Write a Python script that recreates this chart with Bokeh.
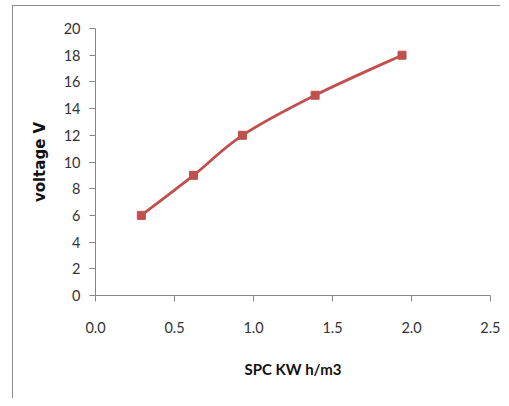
from bokeh.plotting import figure
from bokeh.models import FixedTicker, NumeralTickFormatter, Range1d
from bokeh.embed import file_html
from bokeh.resources import INLINE

# data
spc = [0.29, 0.62, 0.93, 1.39, 1.94]
voltage = [6, 9, 12, 15, 18]
x_ticks = [0.0, 0.5, 1.0, 1.5, 2.0, 2.5]
y_ticks = [0, 2, 4, 6, 8, 10, 12, 14, 16, 18, 20]
x_title = "SPC KW h/m3"
y_title = "voltage V"

RED = "#C0504D"
AXIS = "#868686"

p = figure(width=488, height=393, output_backend="svg", toolbar_location=None,
           x_range=Range1d(0, 2.5), y_range=Range1d(0, 20),
           min_border_left=82, min_border_top=22, min_border_right=11, min_border_bottom=104,
           styles={"margin-left": "12px", "margin-top": "5px",
                   "border-left": "1.5px solid #8c8c8c",
                   "border-top": "1.5px solid #8c8c8c"})
p.outline_line_color = None
p.xgrid.visible = False
p.ygrid.visible = False

# smoothed line (Catmull-Rom style control points computed from the data)
n = len(spc)
x0, y0, x1, y1, cx0, cy0, cx1, cy1 = [], [], [], [], [], [], [], []
for i in range(n - 1):
    xm, ym = (spc[i - 1], voltage[i - 1]) if i > 0 else (spc[i], voltage[i])
    xp, yp = (spc[i + 2], voltage[i + 2]) if i + 2 < n else (spc[i + 1], voltage[i + 1])
    x0.append(spc[i]); y0.append(voltage[i])
    x1.append(spc[i + 1]); y1.append(voltage[i + 1])
    cx0.append(spc[i] + (spc[i + 1] - xm) / 6); cy0.append(voltage[i] + (voltage[i + 1] - ym) / 6)
    cx1.append(spc[i + 1] - (xp - spc[i]) / 6); cy1.append(voltage[i + 1] - (yp - voltage[i]) / 6)
p.bezier(x0=x0, y0=y0, x1=x1, y1=y1, cx0=cx0, cy0=cy0, cx1=cx1, cy1=cy1,
         line_color=RED, line_width=2.8)
p.scatter(spc, voltage, marker="square", size=8, fill_color=RED, line_color=RED)

for ax in (p.xaxis[0], p.yaxis[0]):
    ax.axis_line_color = AXIS
    ax.major_tick_line_color = AXIS
    ax.minor_tick_line_color = None
    ax.major_tick_in = 0
    ax.major_tick_out = 6
    ax.major_label_text_font = "Lato"
    ax.major_label_text_font_size = "14.5px"
    ax.major_label_text_color = "#333333"
    ax.axis_label_text_color = "#111111"
    ax.axis_label_text_font_style = "bold"

p.xaxis.ticker = FixedTicker(ticks=x_ticks)
p.xaxis.formatter = NumeralTickFormatter(format="0.0")
p.xaxis.major_label_standoff = 20
p.xaxis.axis_label = x_title
p.xaxis.axis_label_text_font = "Lato"
p.xaxis.axis_label_text_font_size = "15px"
p.xaxis.axis_label_standoff = 24

p.yaxis.ticker = FixedTicker(ticks=y_ticks)
p.yaxis.major_label_standoff = 9
p.yaxis.axis_label = y_title
p.yaxis.axis_label_text_font = "DejaVu Sans"
p.yaxis.axis_label_text_font_size = "15px"
p.yaxis.axis_label_standoff = 12

open("out.html", "w").write(file_html(p, INLINE))
